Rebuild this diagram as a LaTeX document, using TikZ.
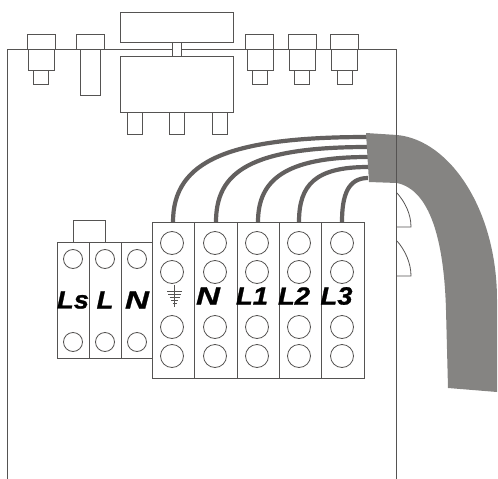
\documentclass[tikz,border=0pt]{standalone}
\usepackage{fontspec}
\setsansfont{Liberation Sans}
\definecolor{edge}{HTML}{555352}
\definecolor{cablegray}{HTML}{858482}
\definecolor{wiregray}{HTML}{63605F}
\begin{document}
\begin{tikzpicture}[x=1pt,y=-1pt,
box/.style={draw=edge, line width=0.9pt, fill=white},
hole/.style={circle, draw=edge, line width=0.8pt, inner sep=0pt, minimum size=23pt},
smallhole/.style={circle, draw=edge, line width=0.8pt, inner sep=0pt, minimum size=19pt},
wire/.style={draw=wiregray, line width=4.2pt},
tag/.style={font=\sffamily\bfseries\itshape\fontsize{25}{25}\selectfont\addfontfeatures{FakeStretch=1.1,FakeBold=1}, inner sep=0pt, text=black},
widetag/.style={tag, font=\sffamily\bfseries\itshape\fontsize{25}{25}\selectfont\addfontfeatures{FakeStretch=1.33,FakeBold=1}}
]
\useasboundingbox (0,0) rectangle (498,479);
%Board
\draw[edge, line width=0.9pt] (7,479) -- (7,49) -- (396.5,49) -- (396.5,479);
%Top parts
\foreach \x in {41,90,259.5,302,344.5} \draw[box] (\x-14,34) rectangle (\x+14,49);
\foreach \x in {41,260,302,344.5} {
  \draw[box] (\x-13,49) rectangle (\x+13,70);
  \draw[box] (\x-7.5,70) rectangle (\x+7.5,84);
}
\draw[box] (80,49) rectangle (100,95);
\draw[box] (120.5,12) rectangle (233,42);
\draw[box] (120.5,56) rectangle (233.5,112);
\draw[box] (172.5,42) rectangle (181,56);
\foreach \x in {135,177,220} \draw[box] (\x-7.5,112) rectangle (\x+7.5,134);
%Small arcs
\draw[edge, line width=0.8pt] (397,193) .. controls (405,202) and (411,214) .. (411,227) -- (397,227);
\draw[edge, line width=0.8pt] (397,241) .. controls (405,250) and (411,263) .. (411,276) -- (397,276);
%Wires
\coordinate (w1) at (368,137);
\coordinate (w2) at (368,147);
\coordinate (w3) at (368,157);
\coordinate (w4) at (368,167);
\coordinate (w5) at (368,178);
\coordinate (t1) at (173,222);
\coordinate (t2) at (216,222);
\coordinate (t3) at (258,222);
\coordinate (t4) at (299,222);
\coordinate (t5) at (342,222);
\draw[wire] (t1) .. controls (173,160) and (230,137) .. (w1);
\draw[wire] (t2) .. controls (216,172) and (250,147) .. (w2);
\draw[wire] (t3) .. controls (258,180) and (285,157) .. (w3);
\draw[wire] (t4) .. controls (299,185) and (315,167) .. (w4);
\draw[wire] (t5) .. controls (342,195) and (348,178) .. (w5);
%Cable
\fill[cablegray] (366,133) -- (397,135) .. controls (450,140) and (497,210) .. (497,300) -- (497,392)
  -- (448,388) -- (446,310) .. controls (444,240) and (430,190) .. (397,183) -- (369,182) -- cycle;
\draw[edge, line width=0.8pt] (396.5,134) -- (396.5,184);
%Small block
\draw[box] (73,242) -- (73,220) -- (105,220) -- (105,242);
\draw[box] (57,242) rectangle (89,358);
\draw[box] (89,242) rectangle (121,358);
\draw[box] (121,242) rectangle (152,358);
\node[smallhole] (a1) at (73,259) {};
\node[smallhole] (a2) at (105,259) {};
\node[smallhole] (a3) at (137,259) {};
\node[smallhole] (b1) at (73,342) {};
\node[smallhole] (b2) at (105,342) {};
\node[smallhole] (b3) at (137,342) {};
%Large block
\foreach \xa/\xb in {152/194.5,194.5/237,237/279,279/321.5,321.5/364}
  \draw[box] (\xa,222) rectangle (\xb,378);
\foreach \x/\n in {172/1,215/2,257/3,299/4,342/5} {
  \node[hole] (c\n) at (\x,243) {};
  \node[hole] (d\n) at (\x,272) {};
  \node[hole] (e\n) at (\x,327) {};
  \node[hole] (f\n) at (\x,356) {};
}
%Earth sign
\draw[edge, line width=0.6pt] (174.5,285) -- (174.5,307);
\draw[edge, line width=0.6pt] (167,291) -- (182,291) (168,294) -- (181,294) (169.5,297) -- (179.5,297) (171,300) -- (178,300) (172.5,303) -- (176.5,303);
%Labels
\node[tag] (ls) at (73,300) {Ls};
\node[tag] (ll) at (105,300) {L};
\node[widetag] (ln) at (137,300) {N};
\node[widetag] (tn) at (208,296) {N};
\node[tag] (t1l) at (252,296) {L1};
\node[tag] (t2l) at (294,296) {L2};
\node[tag] (t3l) at (336.5,296) {L3};
\end{tikzpicture}
\end{document}
